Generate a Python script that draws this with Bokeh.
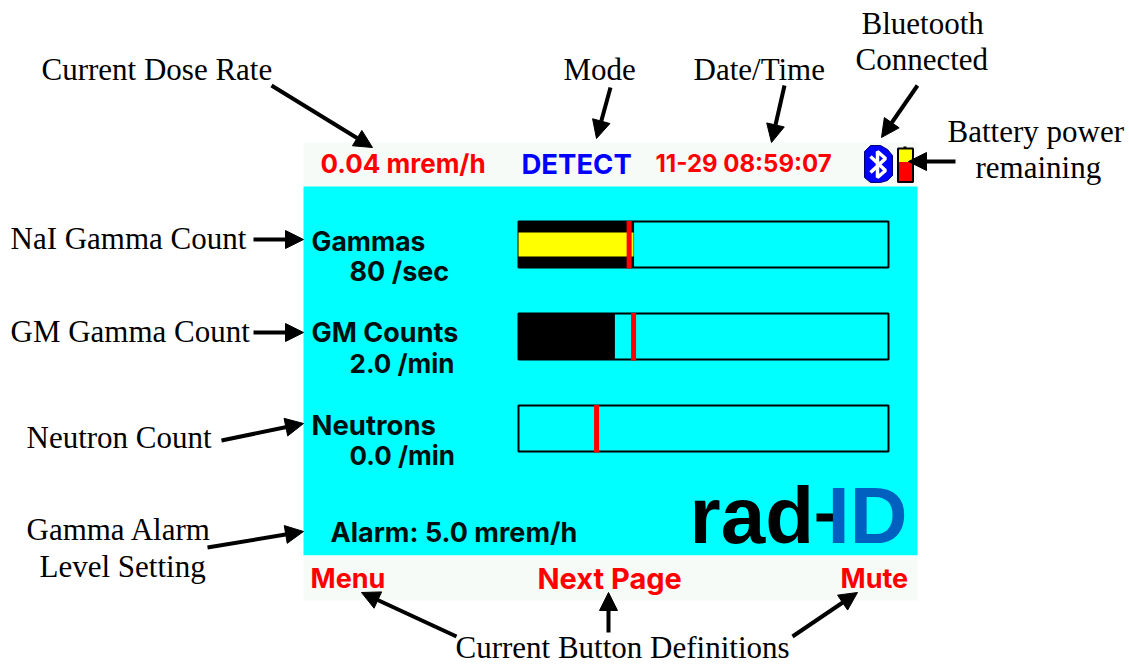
from bokeh.plotting import figure
from bokeh.models import Range1d, Arrow, NormalHead
from bokeh.core.properties import value
from bokeh.embed import file_html
from bokeh.resources import INLINE

# ---- data -----------------------------------------------------------------
gauge_names = ["Gammas", "GM Counts", "Neutrons"]
gauge_readings = ["80 /sec", "2.0 /min", "0.0 /min"]
gauge_fill_pct = [31.1, 25.9, 0.0]
gauge_marker_pct = [29.9, 31.1, 21.1]
callouts = ["Current Dose Rate", "Mode", "Date/Time", "Bluetooth", "Connected",
            "Battery power", "remaining", "NaI Gamma Count", "GM Gamma Count",
            "Neutron Count", "Gamma Alarm", "Level Setting",
            "Current Button Definitions"]
dose_rate = "0.04 mrem/h"
mode = "DETECT"
date_time = "11-29 08:59:07"
alarm = "Alarm: 5.0 mrem/h"
buttons = ["Menu", "Next Page", "Mute"]
battery_pct = 60

# ---- page-pixel canvas ----------------------------------------------------
W, H = 1129, 664
p = figure(width=W, height=H, output_backend="svg", toolbar_location=None,
           x_range=Range1d(0, W), y_range=Range1d(H, 0), x_axis_type=None, y_axis_type=None,
           min_border=0, outline_line_color=None, background_fill_color="white",
           border_fill_color="white")
p.grid.visible = False

CYAN, PALE, BLUE, RED, INK = "#00FFFF", "#F6FBF8", "#0000FF", "#FF0000", "#001010"
SERIF = value("Liberation Serif")
LCD = value("Inter")

def rect(x0, x1, y0, y1, fill, line=None, lw=1):
    p.quad(left=x0, right=x1, top=y0, bottom=y1, fill_color=fill, line_color=line, line_width=lw)

def label(x, y, s, size, color="black", font=SERIF, style="normal"):
    p.text(x=[x], y=[y], text=[s], text_font=font, text_font_size=f"{size}px",
           text_color=color, text_align="left", text_baseline="middle", text_font_style=style)

# LCD panel
rect(303, 917, 142, 186, PALE)
rect(303, 917, 186, 555, CYAN)
rect(303, 917, 555, 600, PALE)

# gauges
G_L, G_W = 518, 370
tops = [221, 313, 405]
name_sizes = [26.5, 27, 27.5]
reading_sizes = [27, 26, 26]
for i, top in enumerate(tops):
    fill_x = G_L + G_W * gauge_fill_pct[i] / 100
    mark_x = G_L + G_W * gauge_marker_pct[i] / 100
    rect(G_L, G_L + G_W, top, top + 46, CYAN, "black", 2)
    if gauge_fill_pct[i] > 0:
        rect(G_L, fill_x, top, top + 46, "black", "black", 1)
    if i == 0:
        rect(G_L, fill_x, top + 11, top + 35, "#FFFF00")
    p.segment(x0=[mark_x], x1=[mark_x], y0=[top - 0.5], y1=[top + 47], line_color=RED, line_width=5)
    label(311, top + 19, gauge_names[i], name_sizes[i], INK, LCD, "bold")
    label(349, top + 50, gauge_readings[i], reading_sizes[i], INK, LCD, "bold")

# header / footer text
label(320, 163, dose_rate, 26, RED, LCD, "bold")
label(521, 163, mode, 27.5, BLUE, LCD, "bold")
label(655, 163, date_time, 24, RED, LCD, "bold")
label(330, 532, alarm, 27, INK, LCD, "bold")
label(310, 578, buttons[0], 27, RED, LCD, "bold")
label(537, 578, buttons[1], 29, RED, LCD, "bold")
label(840, 578, buttons[2], 27, RED, LCD, "bold")

# bluetooth badge
p.patch(x=[870, 880, 887, 892, 892, 887, 880, 870, 864, 864],
        y=[145, 145, 149, 155, 175, 180, 182, 182, 177, 151],
        fill_color=BLUE, line_color="#000070", line_width=1)
p.line(x=[870, 885, 877, 877, 885, 870], y=[156, 170, 177, 151, 158, 172], line_color="white", line_width=3.5)

# battery
rect(897.5, 912.5, 148, 181.5, "#FFFF00", "black", 2)
rect(898.5, 911.5, 148 + 33.5 * (100 - battery_pct) / 100, 180.5, RED)
rect(903, 906, 146, 148, "black")

# logo
label(689, 515, "rad", 80, "black", value("Liberation Sans"), "bold")
rect(816, 838, 513, 521, "black")
label(827, 515, "ID", 80, "#0060C0", value("Liberation Sans"), "bold")

# call-out texts
cx = [41, 563, 693, 861, 855, 947, 975, 10, 10, 26, 26, 39, 455]
cy = [69, 69, 69, 23, 59, 131, 167, 238, 331, 437, 529, 566, 647]
for x, y, s in zip(cx, cy, callouts):
    label(x, y, s, 31)

# arrows
arrows = [(271, 85, 372, 147), (610, 87, 596, 138), (784, 85, 771, 142), (917, 85, 881, 137),
          (955, 161, 908, 161), (253, 239, 303, 239), (253, 332, 303, 332), (221, 440, 303, 423),
          (207, 547, 303, 531), (456, 636, 361, 592), (608, 632, 608, 592), (792, 636, 857, 592)]
for x0, y0, x1, y1 in arrows:
    p.add_layout(Arrow(end=NormalHead(size=18, fill_color="black", line_color="black"),
                       x_start=x0, y_start=y0, x_end=x1, y_end=y1, line_color="black", line_width=4))

open("out.html", "w").write(file_html(p, INLINE))
